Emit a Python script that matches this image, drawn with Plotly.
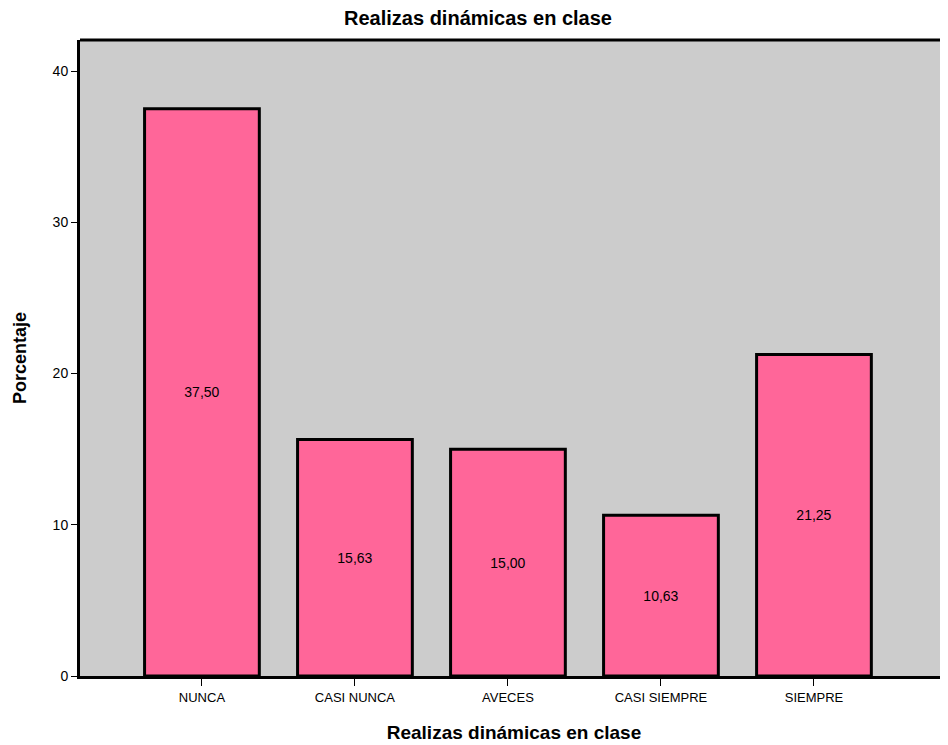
import plotly.graph_objects as go

categories = ["NUNCA", "CASI NUNCA", "AVECES", "CASI SIEMPRE", "SIEMPRE"]
percentages = [37.50, 15.63, 15.00, 10.63, 21.25]
y_ticks = [0, 10, 20, 30, 40]

FONT = "Liberation Sans, Arial, sans-serif"

fig = go.Figure(
    go.Bar(
        x=list(range(len(categories))),
        y=percentages,
        width=0.75,
        marker=dict(color="#FF6699", line=dict(color="black", width=3)),
        texttemplate="%{y:.2f}",
        textposition="inside",
        insidetextanchor="middle",
        textfont=dict(family=FONT, size=14, color="black"),
        textangle=0,
        hoverinfo="skip",
    )
)

fig.update_layout(
    width=940,
    height=737,
    margin=dict(l=72, r=0, t=32, b=69),
    paper_bgcolor="white",
    plot_bgcolor="#CCCCCC",
    separators=",.",
    showlegend=False,
    title=dict(
        text="<b>Realizas dinámicas en clase</b>",
        x=0.5, xanchor="center", y=0.986, yanchor="middle",
        font=dict(family=FONT, size=20, color="black"),
    ),
    xaxis=dict(
        tickmode="array",
        tickvals=list(range(len(categories))),
        ticktext=categories,
        range=[-0.797, 4.876],
        showgrid=False, zeroline=False,
        showline=True, linecolor="black", linewidth=3,
        ticks="outside", ticklen=7, tickcolor="black", tickwidth=1,
        tickfont=dict(family=FONT, size=13, color="black"),
        title=dict(text="<b>Realizas dinámicas en clase</b>", standoff=23,
                   font=dict(family=FONT, size=19, color="black")),
    ),
    yaxis=dict(
        range=[0, 42.05],
        tickmode="array", tickvals=y_ticks,
        showgrid=False, zeroline=False,
        showline=True, linecolor="black", linewidth=3,
        ticks="outside", ticklen=6, tickcolor="black", tickwidth=1,
        tickfont=dict(family=FONT, size=14, color="black"),
        title=dict(text="<b>Porcentaje</b>", standoff=22,
                   font=dict(family=FONT, size=18, color="black")),
    ),
    shapes=[
        dict(type="line", xref="paper", yref="paper", x0=0, x1=1, y0=1, y1=1,
             line=dict(color="black", width=3)),
    ],
)

fig.write_html("out.html")
